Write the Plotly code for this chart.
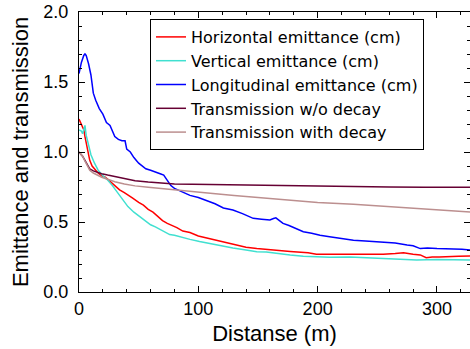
import plotly.graph_objects as go

# Longitudinal emittance (cm)
long_x = [0, 2, 4, 5, 6, 8, 10, 12, 14, 17, 20, 23, 26, 30, 33, 36, 38.6, 40, 43, 46, 50, 53, 56, 60, 64, 68, 71, 74, 77, 80, 84, 88, 93, 100, 107, 114, 121, 129, 137, 146, 153, 160, 163, 165, 168, 171, 176, 182, 188, 195, 202, 210, 220, 230, 240, 250, 258, 265, 275, 280, 286, 292, 300, 307, 314, 321, 328]
long_y = [1.56, 1.64, 1.69, 1.70, 1.69, 1.63, 1.55, 1.42, 1.37, 1.31, 1.27, 1.21, 1.19, 1.11, 1.09, 1.08, 1.08, 1.02, 1.00, 0.96, 0.92, 0.90, 0.88, 0.87, 0.86, 0.845, 0.835, 0.80, 0.76, 0.74, 0.725, 0.71, 0.69, 0.675, 0.655, 0.63, 0.60, 0.586, 0.56, 0.526, 0.52, 0.514, 0.525, 0.53, 0.51, 0.49, 0.475, 0.455, 0.43, 0.42, 0.405, 0.395, 0.38, 0.37, 0.365, 0.36, 0.358, 0.35, 0.336, 0.33, 0.31, 0.315, 0.31, 0.308, 0.31, 0.305, 0.30]

# Horizontal emittance (cm)
hor_x = [0, 2, 4, 5, 6, 8, 9, 11, 13, 16, 19, 22, 26, 30, 34, 38, 41, 45, 50, 54, 58, 62, 66, 70, 74, 78, 82, 87, 93, 100, 108, 115, 121, 130, 140, 149, 160, 170, 177, 185, 192, 199, 210, 220, 227, 235, 245, 255, 265, 272, 280, 286, 291, 296, 302, 311, 318, 328]
hor_y = [1.235, 1.20, 1.16, 1.11, 1.06, 0.98, 0.94, 0.90, 0.88, 0.85, 0.83, 0.82, 0.79, 0.76, 0.73, 0.71, 0.69, 0.67, 0.64, 0.62, 0.59, 0.57, 0.54, 0.51, 0.49, 0.475, 0.46, 0.435, 0.425, 0.40, 0.385, 0.37, 0.36, 0.34, 0.32, 0.31, 0.30, 0.295, 0.29, 0.285, 0.28, 0.27, 0.27, 0.265, 0.265, 0.265, 0.27, 0.27, 0.275, 0.28, 0.27, 0.265, 0.245, 0.25, 0.25, 0.25, 0.255, 0.257]

# Vertical emittance (cm)
ver_x = [0, 2, 3, 4, 5, 6, 7, 8, 10, 13, 16, 20, 24, 28, 33, 37, 41, 46, 52, 56, 60, 64, 70, 76, 80, 86, 93, 101, 110, 121, 129, 140, 149, 157, 165, 177, 188, 199, 210, 227, 240, 255, 270, 283, 300, 315, 328]
ver_y = [1.157, 1.15, 1.13, 1.16, 1.19, 1.12, 1.08, 1.04, 0.98, 0.92, 0.87, 0.83, 0.80, 0.76, 0.705, 0.66, 0.61, 0.57, 0.53, 0.51, 0.48, 0.465, 0.44, 0.41, 0.405, 0.39, 0.376, 0.36, 0.345, 0.324, 0.315, 0.30, 0.288, 0.285, 0.275, 0.264, 0.255, 0.252, 0.248, 0.25, 0.245, 0.235, 0.233, 0.229, 0.232, 0.228, 0.229]

# Transmission without decay
trans_x = [0, 3, 5, 7, 9, 12, 15, 19, 24, 30, 38, 47, 58, 69, 80, 95, 110, 130, 150, 175, 200, 230, 260, 290, 328]
trans_y = [1.0, 0.97, 0.94, 0.91, 0.88, 0.865, 0.855, 0.845, 0.835, 0.824, 0.81, 0.795, 0.785, 0.777, 0.772, 0.769, 0.767, 0.764, 0.761, 0.758, 0.755, 0.752, 0.750, 0.749, 0.748]

# Transmission with decay
decay_x = [0, 3, 5, 7, 9, 12, 15, 19, 24, 30, 38, 47, 58, 69, 80, 95, 110, 130, 150, 175, 200, 230, 260, 290, 328]
decay_y = [1.0, 0.97, 0.935, 0.90, 0.87, 0.85, 0.835, 0.82, 0.805, 0.788, 0.772, 0.758, 0.748, 0.738, 0.729, 0.716, 0.705, 0.69, 0.675, 0.655, 0.64, 0.626, 0.61, 0.594, 0.572]

x_ticks = [0, 100, 200, 300]
y_ticks = [0, 0.5, 1.0, 1.5, 2.0]
y_labels = ["0.0", "0.5", "1.0", "1.5", "2.0"]

series = [
    ("Horizontal emittance (cm)", hor_x, hor_y, "#ff0000"),
    ("Vertical emittance (cm)", ver_x, ver_y, "#40e0d0"),
    ("Longitudinal emittance (cm)", long_x, long_y, "#0000ff"),
    ("Transmission w/o decay", trans_x, trans_y, "#660033"),
    ("Transmission with decay", decay_x, decay_y, "#bc8f8f"),
]

fig = go.Figure()
for name, xs, ys, col in series:
    fig.add_trace(go.Scatter(x=xs, y=ys, mode="lines", name=name,
                             line=dict(color=col, width=1.5)))

font = dict(family="Liberation Sans, Arial, sans-serif", size=18, color="black")

fig.update_layout(
    width=470, height=349,
    margin=dict(l=79, r=0, t=12, b=57),
    paper_bgcolor="white", plot_bgcolor="white",
    font=font,
    showlegend=True,
    legend=dict(x=(150 - 79) / 391, y=(292 - 19) / 280, xanchor="left", yanchor="top",
                bgcolor="white", bordercolor="black", borderwidth=1,
                font=dict(family="DejaVu Sans, sans-serif", size=16), tracegroupgap=0, itemwidth=30),
    xaxis=dict(range=[0, 327.7], tickvals=x_ticks, ticks="inside", ticklen=6,
               tickcolor="black", showline=True, linecolor="black", linewidth=1,
               mirror="allticks", showgrid=False, zeroline=False, automargin=False,
               minor=dict(dtick=20, ticks="inside", ticklen=3, tickcolor="black"),
               title=dict(text="Distanse (m)", standoff=8), tickfont=dict(size=18)),
    yaxis=dict(range=[0, 2.0], tickvals=y_ticks, ticktext=y_labels,
               ticks="inside", ticklen=6, tickcolor="black", showline=True, linecolor="black",
               linewidth=1, mirror="allticks", showgrid=False, zeroline=False, automargin=False,
               minor=dict(dtick=0.1, ticks="inside", ticklen=3, tickcolor="black"),
               title=dict(text="Emittance and transmission", standoff=8),
               tickfont=dict(size=18), ticklabelstandoff=6),
)

fig.write_html("out.html", config={"responsive": False, "displayModeBar": False},
               post_script="document.body.style.margin='0';document.body.style.overflow='hidden';")
